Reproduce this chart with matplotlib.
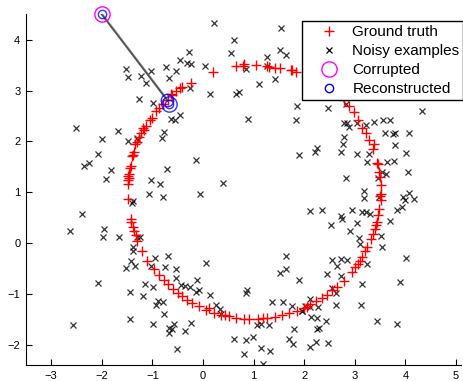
import numpy as np
import matplotlib
matplotlib.use("Agg")
import matplotlib.pyplot as plt

plt.rcParams["font.family"] = ["Liberation Sans", "DejaVu Sans"]

# ground truth points (red +)
truth_x = [0.20, 0.66, 0.79, 0.80, 1.04, 1.27, 1.31, 1.42, 1.52, 1.73, 1.76, 1.83,
           -0.24, -0.41, -0.54, -0.61, -0.70, -0.80, -0.88, -1.01, -1.13, -1.18, -1.23,
           -1.26, -1.31, -1.36, -1.38, -1.43, -1.45, -1.48, -1.49, -1.49, -1.49, -1.43,
           -1.42, -1.39, -1.36, -1.33, -1.30, -1.21, -1.10, -0.97, -0.87, -0.77, -0.70,
           -0.59, -0.49, -0.41, -0.31, -0.21, -0.08, 0.05, 0.22, 0.35, 0.51, 0.66, 0.80,
           0.91, 1.09, 1.27, 1.43, 1.56, 1.70, 1.86, 1.99, 2.12, 2.24, 2.35, 2.55, 2.65,
           2.78, 2.95, 3.01, 3.06, 3.14, 3.24, 3.31, 3.36, 3.39, 3.43, 3.46, 3.47, 3.51,
           3.51, 3.51, 3.49, 3.47, 3.44, 3.36, 3.28, 3.21, 3.14, 3.06, 2.98, 2.88, 2.78,
           -1.40, -1.47, -1.05, -0.93, -0.63, -0.45, 0.12, 0.43, 1.18, 2.05, 2.44, 3.10,
           3.20, 3.41, 3.50, 3.45, 3.37, -1.46, -1.34, -1.17]
truth_y = [3.37, 3.48, 3.49, 3.53, 3.50, 3.49, 3.47, 3.44, 3.44, 3.41, 3.41, 3.37,
           3.16, 3.07, 2.99, 2.91, 2.82, 2.74, 2.65, 2.47, 2.30, 2.26, 2.17,
           2.09, 1.99, 1.80, 1.73, 1.52, 1.47, 1.32, 1.24, 1.17, 0.86, 0.48,
           0.41, 0.32, 0.23, 0.15, 0.05, -0.16, -0.36, -0.51, -0.63, -0.72, -0.80,
           -0.90, -0.98, -1.05, -1.12, -1.18, -1.24, -1.31, -1.38, -1.41, -1.44, -1.47, -1.49,
           -1.49, -1.49, -1.47, -1.45, -1.41, -1.38, -1.33, -1.28, -1.20, -1.15, -1.09, -0.92, -0.87,
           -0.74, -0.57, -0.47, -0.41, -0.28, -0.08, 0.09, 0.18, 0.28, 0.41, 0.55, 0.68, 0.84,
           0.97, 1.14, 1.30, 1.40, 1.57, 1.86, 2.03, 2.16, 2.27, 2.42, 2.59, 2.70, 2.82,
           1.72, 1.28, 2.42, 2.60, 2.94, 3.06, -1.27, -1.42, -1.48, -1.25, -1.02, -0.35,
           -0.15, 0.36, 0.93, 1.55, 1.95, 1.35, 1.96, 2.22]

# noisy examples (black x)
noisy_x = [0.22, 1.55, 0.62, 0.56, 1.52, 1.63, 1.27, 1.27, 0.84, 1.42, 1.10, 0.71, 0.66,
           0.13, 0.04, -0.28, -0.32, -0.24, -0.45, -0.54, -0.74, -0.68, -1.03, -1.53, -1.48,
           -1.23, -1.13, -0.26, -1.26, -0.99, -0.64, -0.45, -0.56, -0.77, -0.82, 0.89, 1.85,
           1.83, 2.47, 2.83, 2.78, 2.84, 2.88, 4.33, 3.21, 3.38, 3.55, 3.70, 3.60, 3.75, 3.79,
           4.06, 2.78, 2.77, 3.79, 3.04, 3.27, 4.01, 2.72, 2.26, 2.21, 1.89, 3.24, 3.64, 3.77,
           3.54, 3.62, 4.04, 2.83, 3.19, 3.19, 3.47, 3.96, 4.06, 4.16, 3.99, 3.93, 3.83, 3.14,
           3.21, 3.29, 2.95, 2.72, 2.75, 2.35, 2.11, 2.52, 3.04, 3.70, 2.91, 3.08, 3.52, 3.11,
           3.53, 4.01, 2.55, 2.72, 2.85, 2.64, 3.24, 2.44, 2.72, 3.14, 3.90, 2.55, 2.62, 2.63,
           3.12, 2.12, 2.01, 1.96, 2.12, 2.14, 2.25, 2.42, 2.25, 2.29, 3.43, 3.83, 2.24, 2.12,
           2.47, 1.79, 1.70, 1.78, 1.76, 1.58, 1.37, 1.89, 1.63, 1.64, 1.53, 0.87, 0.84, 1.14,
           1.07, 1.30, 0.62, 0.84, 0.99, 0.81, 1.15, 1.32, 1.18, 0.34, 0.25, 0.35, 0.13, 0.05,
           -0.11, -0.14, -0.26, -0.36, -0.44, -0.54, -0.53, -0.69, -0.75, -0.95, -1.02, -0.98,
           -1.15, -1.18, -0.90, -0.92, -0.80, -0.77, -0.99, -1.44, -1.44, -1.53, -1.43, -1.34,
           -1.39, -1.38, -1.31, -1.24, -1.67, -1.97, -1.95, -2.62, -2.39, -2.07, -2.56, -0.67,
           -0.57, -0.62, -0.68, -0.36, -0.24, -0.52, -0.08, -1.07, -0.80, -0.85, -1.02, -0.72,
           -1.39, -1.40, -0.06, -0.14, 0.40, -1.92, -1.81, -2.35, -2.26, -2.07, -2.00, -2.51,
           -1.68, -1.49, -1.31, -1.28, 2.28, 3.05, 3.46, 1.95]
noisy_y = [4.33, 4.24, 3.99, 3.74, 3.80, 3.71, 3.67, 3.49, 3.43, 3.23, 3.13, 2.97, 2.93,
           2.93, 3.48, 3.76, 3.55, 3.53, 3.61, 3.38, 3.46, 3.24, 3.39, 3.42, 3.27,
           3.29, 3.16, 3.05, 2.83, 2.75, 2.45, 2.53, 2.42, 2.18, 2.06, 2.45, 2.70,
           2.43, 2.66, 2.73, 2.37, 2.37, 2.29, 2.60, 2.32, 2.38, 2.43, 2.43, 2.17, 2.14, 2.17,
           2.17, 2.09, 1.95, 1.94, 1.75, 1.76, 1.78, 1.79, 1.87, 1.80, 1.74, 1.60, 1.59, 1.62,
           1.39, 1.36, 1.39, 1.29, 1.03, 0.88, 0.91, 0.91, 0.99, 0.86, 0.84, 0.72, 0.66, 0.61,
           0.61, 0.58, 0.66, 0.53, 0.48, 0.66, 0.64, 0.36, 0.39, 0.43, 0.24, 0.10, 0.13, -0.01,
           -0.07, -0.30, -0.34, -0.32, -0.34, -0.45, -0.41, -0.61, -0.65, -0.80, -0.76, -0.88, -0.98, -1.21,
           -1.21, -1.10, -1.24, -1.34, -1.26, -1.46, -1.47, -1.53, -1.70, -1.68, -1.53, -1.59, -1.95, -2.05,
           -1.96, -1.69, -1.89, -1.99, -1.24, -1.16, -1.16, -0.72, -0.51, -0.26, -0.59, -0.92, -0.98, -1.59,
           -1.62, -1.62, -1.89, -1.91, -1.84, -2.18, -2.07, -2.12, -2.39, -1.30, -1.21, -1.39, -1.03, -0.39,
           -0.72, -0.97, -0.87, -0.84, -0.82, -0.52, -0.69, -0.26, -0.47, -0.29, -0.46, -0.87,
           -0.80, -1.05, -1.14, -1.21, -1.16, -1.39, -1.59, -1.49, -0.97, -0.49, -0.36, -0.45,
           -0.16, -0.08, 0.12, 0.11, 0.11, 0.11, 0.27, 0.23, 0.58, -0.79, -1.61, -1.68,
           -1.59, -1.69, -1.77, -1.74, -1.58, -2.09, -0.93, 0.96, 0.91, 1.17, 1.24, 1.45,
           0.82, 0.78, 0.96, 1.64, 1.19, 1.26, 1.44, 1.52, 1.58, 1.76, 2.04, 2.26,
           2.21, 2.01, 2.06, 2.03, -1.26, 2.36, 1.28, -1.33]

# corrupted input and the path of the reconstruction
corrupt_x, corrupt_y = -2.0, 4.5
path_x = [-2.0, -0.70]
path_y = [4.5, 2.80]
recon_x = [-2.0, -0.72, -0.67, -0.67]
recon_y = [4.5, 2.82, 2.74, 2.74]
recon_size = [6, 9, 11, 6]

fig = plt.figure(figsize=(4.63, 3.81), dpi=100)
ax = fig.add_axes([0.056, 0.042, 0.94, 0.92])

ax.plot(noisy_x, noisy_y, "x", color="black", markersize=4, markeredgewidth=0.9,
        alpha=0.8, label="Noisy examples")
ax.plot(truth_x, truth_y, "+", color="red", markersize=7, markeredgewidth=1.0,
        label="Ground truth")
ax.plot(path_x, path_y, "-", color="#333333", linewidth=1.3, alpha=0.85)
ax.plot(np.array(path_x) + 0.025, np.array(path_y), "-", color="#555555",
        linewidth=0.7, alpha=0.6)
ax.plot(corrupt_x, corrupt_y, "o", markerfacecolor="none", markeredgecolor="magenta",
        markersize=11, markeredgewidth=1.0, clip_on=False)
for rx, ry, rs in zip(recon_x, recon_y, recon_size):
    ax.plot(rx, ry, "o", markerfacecolor="none", markeredgecolor="blue",
            markersize=rs, markeredgewidth=1.0, alpha=0.8, clip_on=False)

ax.set_xlim(-3.5, 5.1)
ax.set_ylim(-2.4, 4.5)
ax.set_xticks(range(-3, 6))
ax.set_yticks(range(-2, 5))
ax.spines["top"].set_visible(False)
ax.spines["right"].set_visible(False)
ax.tick_params(direction="in", length=4, labelsize=8, pad=4)

h_truth = plt.Line2D([], [], ls="none", marker="+", color="red", markersize=7,
                     markeredgewidth=1.0)
h_noisy = plt.Line2D([], [], ls="none", marker="x", color="black", markersize=4,
                     markeredgewidth=0.9)
h_corr = plt.Line2D([], [], ls="none", marker="o", markerfacecolor="none",
                    markeredgecolor="magenta", markersize=11)
h_rec = plt.Line2D([], [], ls="none", marker="o", markerfacecolor="none",
                   markeredgecolor="blue", markersize=6)
leg = ax.legend([h_truth, h_noisy, h_corr, h_rec],
                ["Ground truth", "Noisy examples", "Corrupted", "Reconstructed"],
                loc="upper left", bbox_to_anchor=(0.634, 0.981), fontsize=11,
                fancybox=False, framealpha=1, edgecolor="black", borderaxespad=0,
                handlelength=3, handletextpad=0.05, labelspacing=0.33,
                borderpad=0.25, numpoints=1)
leg.get_frame().set_linewidth(1.0)

fig.savefig("out.png", dpi=100)
